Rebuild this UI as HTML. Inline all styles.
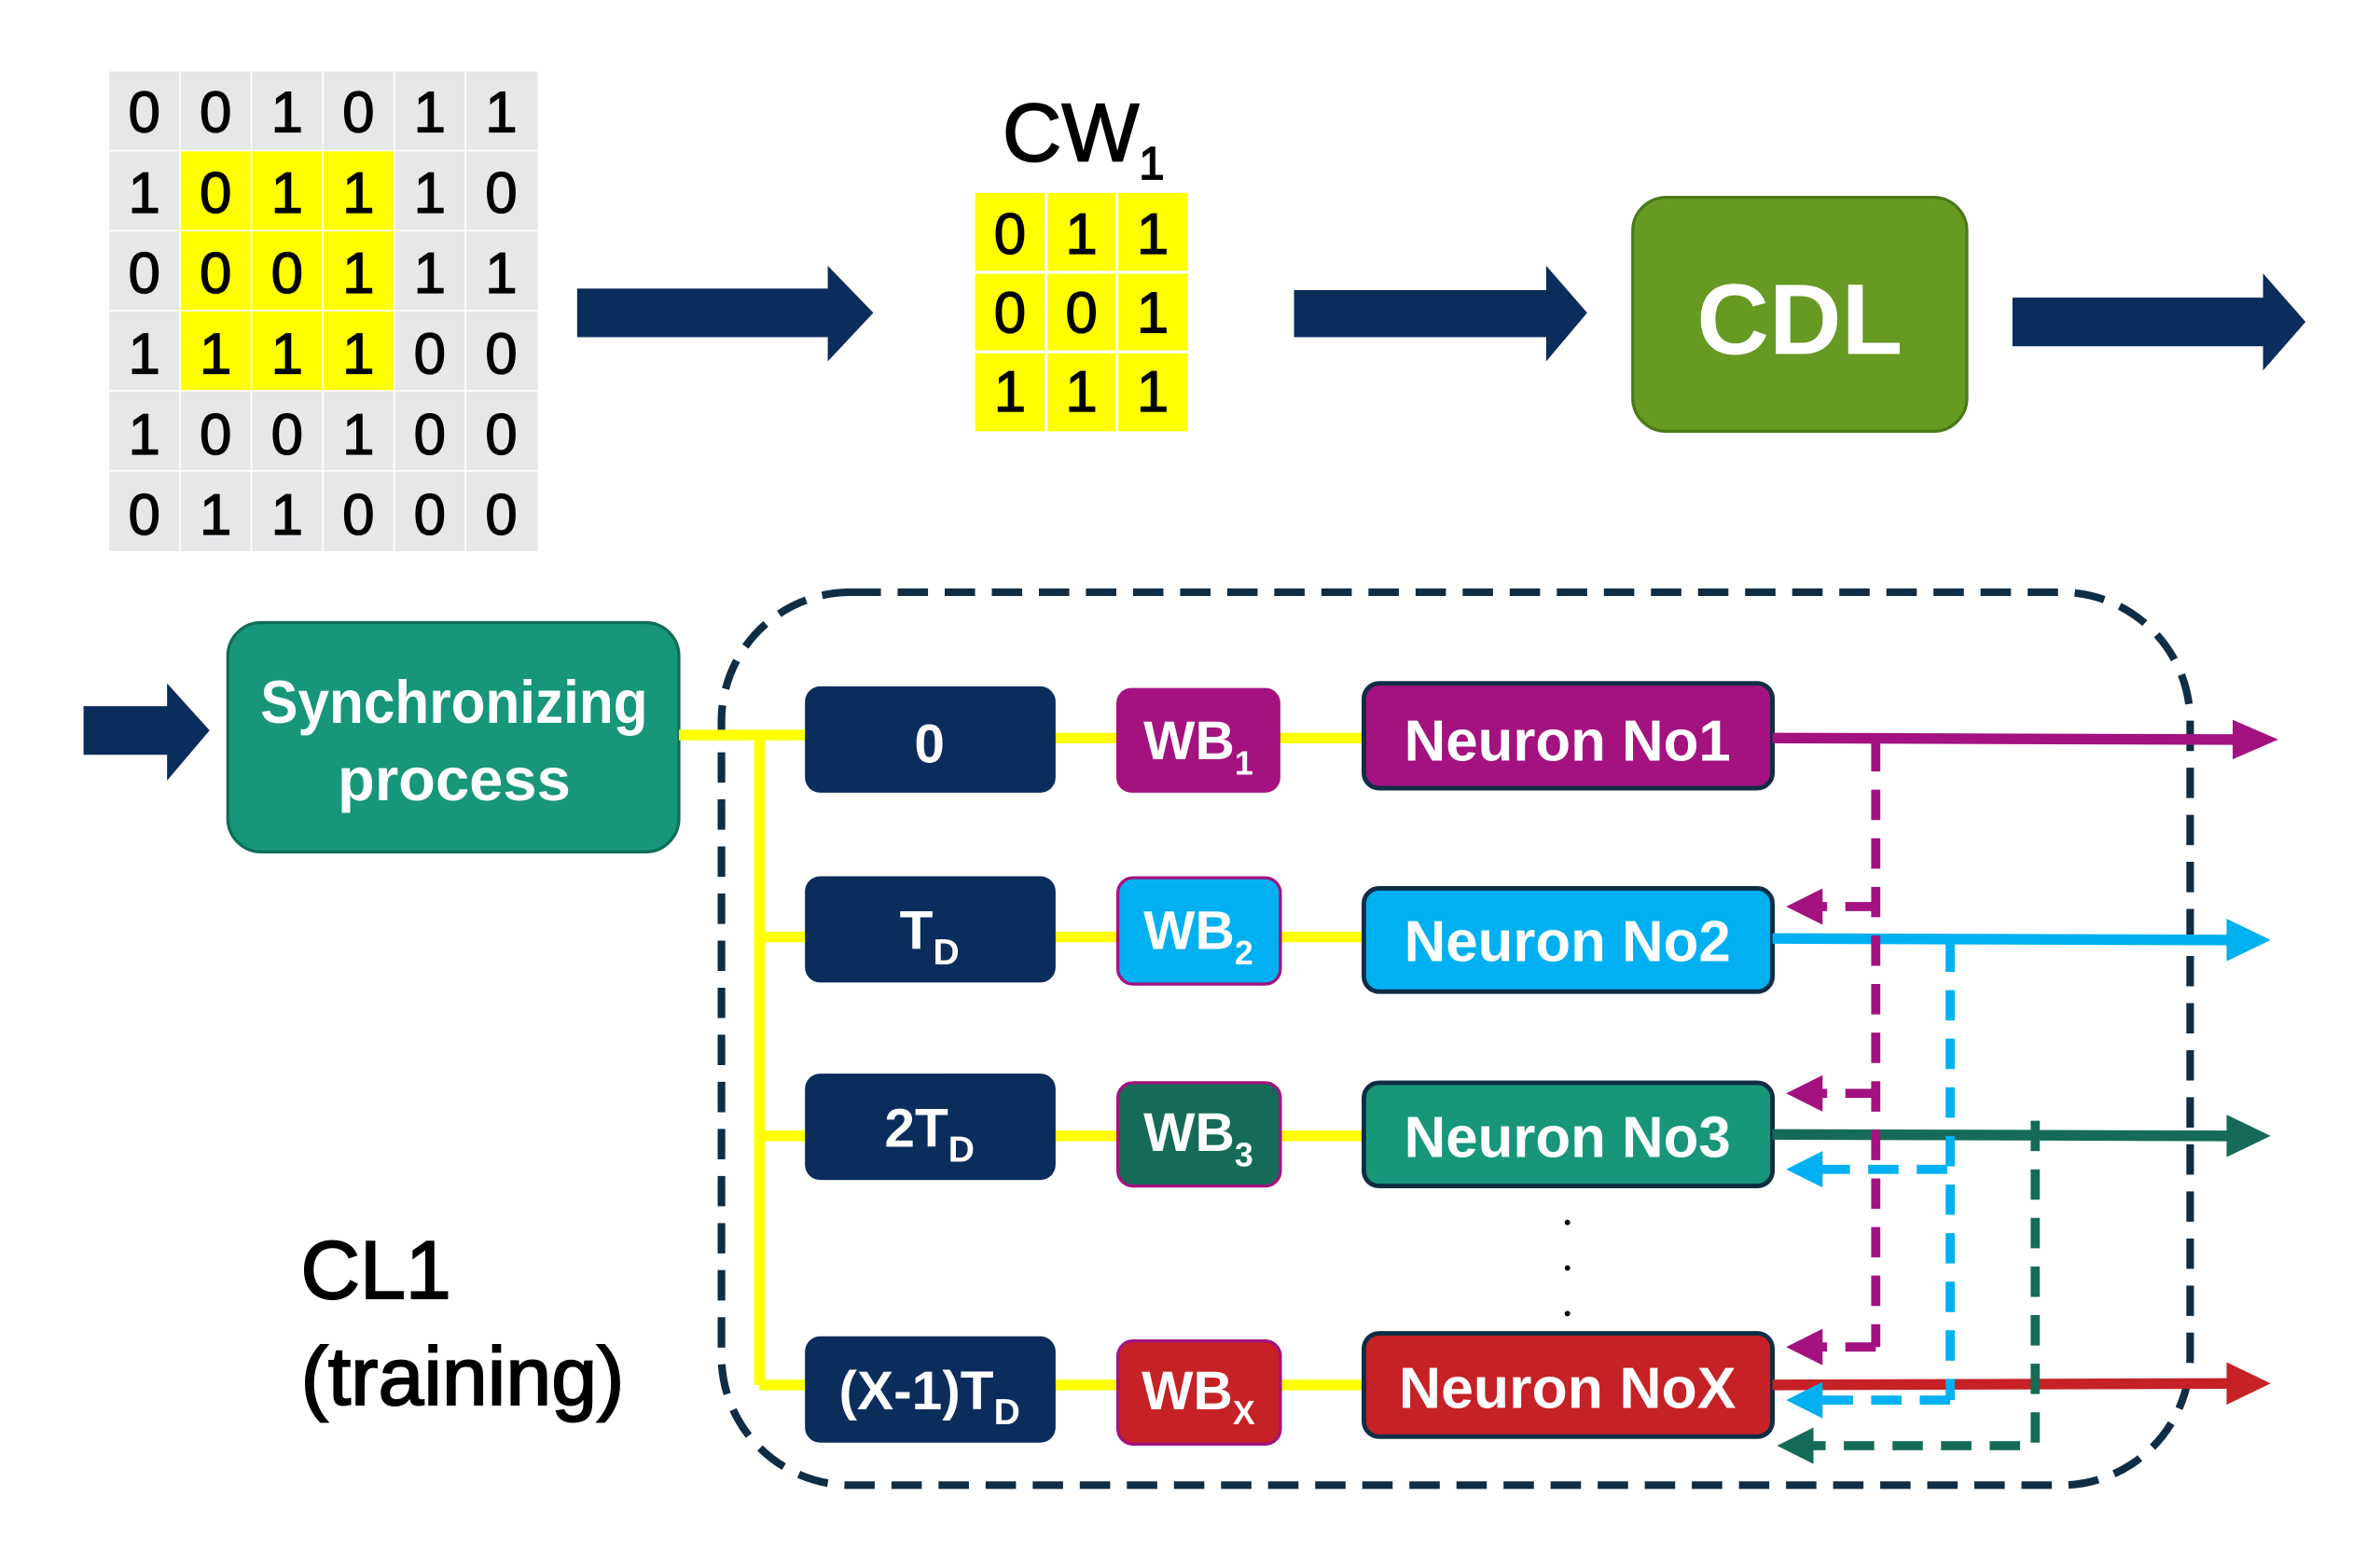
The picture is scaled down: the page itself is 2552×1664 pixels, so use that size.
<!DOCTYPE html>
<html><head><meta charset="utf-8"><style>html,body{margin:0;padding:0;background:#fff}svg{display:block}</style></head>
<body>
<svg width="2552" height="1664" viewBox="0 0 1567 1022" preserveAspectRatio="none" xmlns="http://www.w3.org/2000/svg" font-family="Liberation Sans, sans-serif">
<g fill="#e6e7e9">
<rect x="72" y="47" width="46" height="51.7"/><rect x="119" y="47" width="46" height="51.7"/><rect x="166" y="47" width="46" height="51.7"/><rect x="213" y="47" width="46" height="51.7"/><rect x="260" y="47" width="46" height="51.7"/><rect x="307" y="47" width="47" height="51.7"/>
<rect x="72" y="99.7" width="46" height="51.7"/><rect x="260" y="99.7" width="46" height="51.7"/><rect x="307" y="99.7" width="47" height="51.7"/>
<rect x="72" y="152.4" width="46" height="51.7"/><rect x="260" y="152.4" width="46" height="51.7"/><rect x="307" y="152.4" width="47" height="51.7"/>
<rect x="72" y="205.1" width="46" height="51.7"/><rect x="260" y="205.1" width="46" height="51.7"/><rect x="307" y="205.1" width="47" height="51.7"/>
<rect x="72" y="257.8" width="46" height="51.7"/><rect x="119" y="257.8" width="46" height="51.7"/><rect x="166" y="257.8" width="46" height="51.7"/><rect x="213" y="257.8" width="46" height="51.7"/><rect x="260" y="257.8" width="46" height="51.7"/><rect x="307" y="257.8" width="47" height="51.7"/>
<rect x="72" y="310.5" width="46" height="52.5"/><rect x="119" y="310.5" width="46" height="52.5"/><rect x="166" y="310.5" width="46" height="52.5"/><rect x="213" y="310.5" width="46" height="52.5"/><rect x="260" y="310.5" width="46" height="52.5"/><rect x="307" y="310.5" width="47" height="52.5"/>
</g>
<g fill="#ffff00">
<rect x="119" y="99.7" width="46" height="51.7"/><rect x="166" y="99.7" width="46" height="51.7"/><rect x="213" y="99.7" width="46" height="51.7"/>
<rect x="119" y="152.4" width="46" height="51.7"/><rect x="166" y="152.4" width="46" height="51.7"/><rect x="213" y="152.4" width="46" height="51.7"/>
<rect x="119" y="205.1" width="46" height="51.7"/><rect x="166" y="205.1" width="46" height="51.7"/><rect x="213" y="205.1" width="46" height="51.7"/>
</g>
<g font-size="38" text-anchor="middle" fill="#000" stroke="#000" stroke-width="0.8">
<text x="95" y="87">0</text><text x="142" y="87">0</text><text x="189" y="87">1</text><text x="236" y="87">0</text><text x="283" y="87">1</text><text x="330" y="87">1</text>
<text x="95" y="140">1</text><text x="142" y="140">0</text><text x="189" y="140">1</text><text x="236" y="140">1</text><text x="283" y="140">1</text><text x="330" y="140">0</text>
<text x="95" y="193">0</text><text x="142" y="193">0</text><text x="189" y="193">0</text><text x="236" y="193">1</text><text x="283" y="193">1</text><text x="330" y="193">1</text>
<text x="95" y="246">1</text><text x="142" y="246">1</text><text x="189" y="246">1</text><text x="236" y="246">1</text><text x="283" y="246">0</text><text x="330" y="246">0</text>
<text x="95" y="299">1</text><text x="142" y="299">0</text><text x="189" y="299">0</text><text x="236" y="299">1</text><text x="283" y="299">0</text><text x="330" y="299">0</text>
<text x="95" y="352">0</text><text x="142" y="352">1</text><text x="189" y="352">1</text><text x="236" y="352">0</text><text x="283" y="352">0</text><text x="330" y="352">0</text>
</g>
<g fill="#0b2d5c">
<polygon points="380,190 545,190 545,175 575,206 545,238 545,222 380,222"/>
<polygon points="852,191 1018,191 1018,175 1045,206 1018,238 1018,222 852,222"/>
<polygon points="1325,196 1490,196 1490,180 1518,212 1490,244 1490,228 1325,228"/>
<polygon points="55,465 110,465 110,450 138,481 110,514 110,497 55,497"/>
</g>
<text x="660" y="106" font-size="54" fill="#000" stroke="#000" stroke-width="1">CW<tspan font-size="30" dy="12">1</tspan></text>
<rect x="642" y="127" width="140" height="157" fill="#ffff00"/>
<g stroke="#fff" stroke-width="2"><line x1="688.7" y1="127" x2="688.7" y2="284"/><line x1="735.3" y1="127" x2="735.3" y2="284"/><line x1="642" y1="179.3" x2="782" y2="179.3"/><line x1="642" y1="231.7" x2="782" y2="231.7"/></g>
<g font-size="38" text-anchor="middle" fill="#000" stroke="#000" stroke-width="0.8">
<text x="665" y="167">0</text><text x="712" y="167">1</text><text x="759" y="167">1</text>
<text x="665" y="219">0</text><text x="712" y="219">0</text><text x="759" y="219">1</text>
<text x="665" y="271">1</text><text x="712" y="271">1</text><text x="759" y="271">1</text>
</g>
<rect x="1075" y="130" width="220" height="154" rx="22" fill="#669a22" stroke="#4a7a18" stroke-width="2"/>
<text x="1185" y="233" font-size="66" font-weight="bold" fill="#fff" text-anchor="middle">CDL</text>
<rect x="150" y="410" width="297" height="151" rx="22" fill="#17967a" stroke="#0f6e58" stroke-width="2"/>
<g font-size="40" font-weight="bold" fill="#fff" text-anchor="middle"><text x="299" y="476" textLength="255" lengthAdjust="spacingAndGlyphs">Synchronizing</text><text x="299" y="527">process</text></g>
<rect x="475" y="390" width="967" height="588" rx="85" fill="none" stroke="#0f2d45" stroke-width="5" stroke-dasharray="20 11"/>
<g stroke="#ffff00" stroke-width="7" fill="none">
<line x1="447" y1="484" x2="530" y2="484"/>
<line x1="500" y1="484" x2="500" y2="912"/>
<line x1="500" y1="617" x2="530" y2="617"/><line x1="500" y1="748" x2="530" y2="748"/><line x1="500" y1="912" x2="530" y2="912"/>
<line x1="695" y1="486" x2="898" y2="486"/><line x1="695" y1="617" x2="898" y2="617"/><line x1="695" y1="748" x2="898" y2="748"/><line x1="695" y1="912" x2="898" y2="912"/>
</g>
<g fill="#0b2d5c">
<rect x="530" y="452" width="165" height="70" rx="10"/><rect x="530" y="577" width="165" height="70" rx="10"/><rect x="530" y="707" width="165" height="70" rx="10"/><rect x="530" y="880" width="165" height="70" rx="10"/>
</g>
<g font-size="36" font-weight="bold" fill="#fff" text-anchor="middle">
<text x="612" y="502">0</text>
<text x="612" y="625">T<tspan font-size="24" dy="10">D</tspan></text>
<text x="612" y="755">2T<tspan font-size="24" dy="10">D</tspan></text>
<text x="612" y="928">(X-1)T<tspan font-size="24" dy="10">D</tspan></text>
</g>
<rect x="735" y="453" width="108" height="69" rx="10" fill="#a3127f"/>
<rect x="736" y="578" width="107" height="70" rx="10" fill="#00b0f0" stroke="#a3127f" stroke-width="2"/>
<rect x="736" y="713" width="107" height="68" rx="10" fill="#156b57" stroke="#a3127f" stroke-width="2"/>
<rect x="736" y="883" width="107" height="68" rx="10" fill="#c52126" stroke="#a3127f" stroke-width="2"/>
<g font-size="36" font-weight="bold" fill="#fff" text-anchor="middle">
<text x="789" y="500">WB<tspan font-size="22" dy="10">1</tspan></text>
<text x="789" y="625">WB<tspan font-size="22" dy="10">2</tspan></text>
<text x="789" y="758">WB<tspan font-size="22" dy="10">3</tspan></text>
<text x="789" y="928">WB<tspan font-size="22" dy="10">X</tspan></text>
</g>
<g stroke="#0f2d45" stroke-width="3">
<rect x="898" y="450" width="269" height="69" rx="10" fill="#a3127f"/>
<rect x="898" y="585" width="269" height="68" rx="10" fill="#00b0f0"/>
<rect x="898" y="713" width="269" height="68" rx="10" fill="#17967a"/>
<rect x="898" y="878" width="269" height="68" rx="10" fill="#c52126"/>
</g>
<g font-size="38" font-weight="bold" fill="#fff" text-anchor="middle">
<text x="1032" y="501" textLength="215" lengthAdjust="spacingAndGlyphs">Neuron No1</text>
<text x="1032" y="633" textLength="215" lengthAdjust="spacingAndGlyphs">Neuron No2</text>
<text x="1032" y="762" textLength="215" lengthAdjust="spacingAndGlyphs">Neuron No3</text>
<text x="1032" y="927" textLength="222" lengthAdjust="spacingAndGlyphs">Neuron NoX</text>
</g>
<g fill="#000"><circle cx="1032" cy="805" r="1.8"/><circle cx="1032" cy="835" r="1.8"/><circle cx="1032" cy="865" r="1.8"/></g>
<g stroke-width="7">
<line x1="1167" y1="486" x2="1472" y2="487" stroke="#a3127f"/><polygon points="1470,474 1500,487 1470,500" fill="#a3127f"/>
<line x1="1167" y1="618" x2="1468" y2="619" stroke="#00b0f0"/><polygon points="1466,605 1495,619 1466,633" fill="#00b0f0"/>
<line x1="1167" y1="747" x2="1468" y2="748" stroke="#156b57"/><polygon points="1466,734 1495,748 1466,762" fill="#156b57"/>
<line x1="1167" y1="912" x2="1468" y2="911" stroke="#c52126"/><polygon points="1466,897 1495,911 1466,925" fill="#c52126"/>
</g>
<g fill="none" stroke-width="6" stroke-dasharray="20 12">
<path d="M1235 488 V887 M1235 597 H1195 M1235 720 H1195 M1235 887 H1195" stroke="#a3127f"/>
<path d="M1284 620 V922 M1282 770 H1195 M1284 922 H1195" stroke="#00b0f0"/>
<path d="M1340 738 V952 H1190" stroke="#156b57"/>
</g>
<g>
<polygon points="1176,597 1200,585 1200,609" fill="#a3127f"/>
<polygon points="1176,720 1200,708 1200,732" fill="#a3127f"/>
<polygon points="1176,887 1200,875 1200,899" fill="#a3127f"/>
<polygon points="1176,770 1200,758 1200,782" fill="#00b0f0"/>
<polygon points="1176,922 1200,910 1200,934" fill="#00b0f0"/>
<polygon points="1170,952 1194,940 1194,964" fill="#156b57"/>
</g>
<g font-size="54" fill="#000" stroke="#000" stroke-width="1.2"><text x="198" y="855">CL1</text><text x="198" y="925">(training)</text></g>
</svg>
</body></html>
